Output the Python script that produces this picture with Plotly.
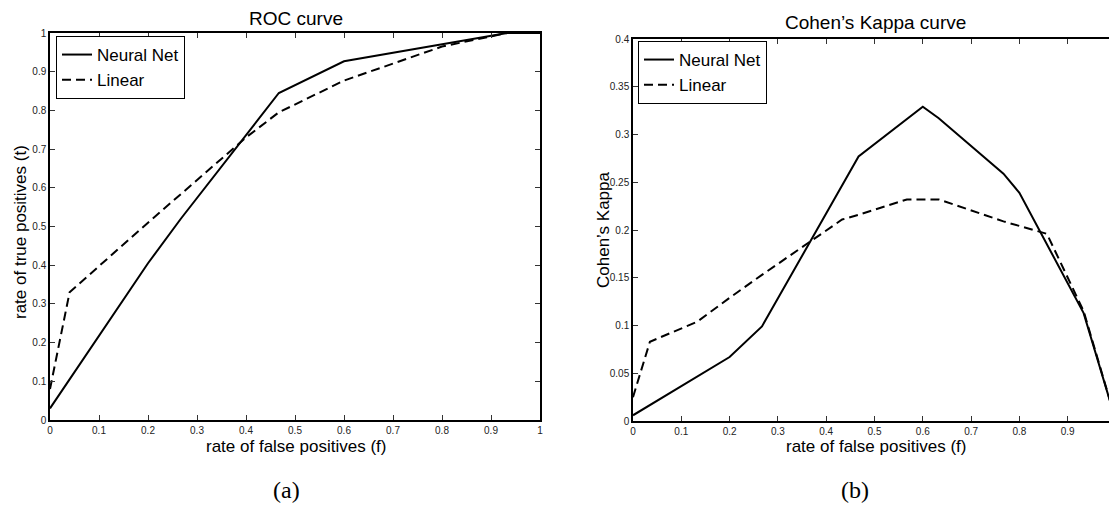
import plotly.graph_objects as go

# ---- data ----
roc_nn_f = [0, 0.2, 0.267, 0.467, 0.6, 0.8, 0.933, 1.0]
roc_nn_t = [0.03, 0.405, 0.52, 0.845, 0.927, 0.972, 1.0, 1.0]

roc_lin_f = [0, 0.04, 0.2, 0.4, 0.467, 0.6, 0.8, 0.933, 1.0]
roc_lin_t = [0.08, 0.33, 0.51, 0.73, 0.795, 0.877, 0.965, 1.0, 1.0]

kappa_nn_f = [0, 0.2, 0.267, 0.467, 0.6, 0.633, 0.767, 0.8, 0.933, 1.0]
kappa_nn_k = [0.006, 0.067, 0.099, 0.277, 0.329, 0.317, 0.259, 0.239, 0.113, 0.0]

kappa_lin_f = [0, 0.035, 0.133, 0.2, 0.267, 0.433, 0.467, 0.567, 0.633, 0.767, 0.857, 0.933, 1.0]
kappa_lin_k = [0.025, 0.083, 0.104, 0.129, 0.153, 0.211, 0.216, 0.232, 0.232, 0.209, 0.196, 0.115, 0.0]

series_names = ["Neural Net", "Linear"]
titles = ["ROC curve", "Cohen\u2019s Kappa curve"]
xlabel = "rate of false positives (f)"
ylabels = ["rate of true positives (t)", "Cohen\u2019s Kappa"]
panel_labels = ["(a)", "(b)"]

# The page body has an 8px default margin; size the figure so it fits the window.
OFF = 8
W, H = 1117 - OFF, 521 - OFF
SANS = "Liberation Sans, Arial, sans-serif"
SERIF = "Liberation Serif, Times New Roman, serif"

def px(x):
    return (x - OFF) / W

def py(y):
    return 1 - (y - OFF) / H

fig = go.Figure()
line_solid = dict(color="black", width=2)
line_dash = dict(color="black", width=2, dash="9px,5px")

fig.add_trace(go.Scatter(x=roc_nn_f, y=roc_nn_t, mode="lines", name=series_names[0],
                         line=line_solid, xaxis="x", yaxis="y", legend="legend"))
fig.add_trace(go.Scatter(x=roc_lin_f, y=roc_lin_t, mode="lines", name=series_names[1],
                         line=line_dash, xaxis="x", yaxis="y", legend="legend"))
fig.add_trace(go.Scatter(x=kappa_nn_f, y=kappa_nn_k, mode="lines", name=series_names[0],
                         line=line_solid, xaxis="x2", yaxis="y2", legend="legend2"))
fig.add_trace(go.Scatter(x=kappa_lin_f, y=kappa_lin_k, mode="lines", name=series_names[1],
                         line=line_dash, xaxis="x2", yaxis="y2", legend="legend2"))

axis_common = dict(
    showgrid=False, zeroline=False, showline=True, linecolor="black", linewidth=1.5,
    mirror="ticks", ticks="inside", ticklen=5, tickcolor="#333", tickwidth=1,
    tickfont=dict(family=SANS, size=10, color="#222"), automargin=False,
)

legend_common = dict(xanchor="left", yanchor="top",
                     bgcolor="white", bordercolor="black", borderwidth=1,
                     font=dict(family=SANS, size=17, color="black"),
                     tracegroupgap=0, itemwidth=30)

fig.update_layout(
    width=W, height=H,
    margin=dict(l=0, r=0, t=0, b=0, autoexpand=False),
    paper_bgcolor="white", plot_bgcolor="white",
    xaxis=dict(domain=[px(50), px(540)], range=[0, 1], dtick=0.1, anchor="y", **axis_common),
    yaxis=dict(domain=[py(420), py(33)], range=[0, 1], dtick=0.1, anchor="x", **axis_common),
    xaxis2=dict(domain=[px(633), px(1116)], range=[0, 1], dtick=0.1, anchor="y2", **axis_common),
    yaxis2=dict(domain=[py(421), py(39)], range=[0, 0.4], dtick=0.05, anchor="x2", **axis_common),
    legend=dict(x=px(56), y=py(36), **legend_common),
    legend2=dict(x=px(638), y=py(41), **legend_common),
    showlegend=True,
)

ann = []
# titles
ann.append(dict(text=titles[0], x=px(295.5), y=py(18), xref="paper", yref="paper",
                showarrow=False, font=dict(family=SANS, size=19, color="black"),
                xanchor="center", yanchor="middle"))
ann.append(dict(text=titles[1], x=px(875.5), y=py(22), xref="paper", yref="paper",
                showarrow=False, font=dict(family=SANS, size=19, color="black"),
                xanchor="center", yanchor="middle"))
# x labels
for cx in (295.5, 875.5):
    ann.append(dict(text=xlabel, x=px(cx), y=py(446), xref="paper", yref="paper",
                    showarrow=False, font=dict(family=SANS, size=17, color="black"),
                    xanchor="center", yanchor="middle"))
# y labels
ann.append(dict(text=ylabels[0], x=px(20), y=py(232), xref="paper", yref="paper",
                showarrow=False, textangle=-90, font=dict(family=SANS, size=17, color="black"),
                xanchor="center", yanchor="middle"))
ann.append(dict(text=ylabels[1], x=px(603), y=py(230), xref="paper", yref="paper",
                showarrow=False, textangle=-90, font=dict(family=SANS, size=17, color="black"),
                xanchor="center", yanchor="middle"))
# panel labels
ann.append(dict(text=panel_labels[0], x=px(286), y=py(490), xref="paper", yref="paper",
                showarrow=False, font=dict(family=SERIF, size=24, color="black"),
                xanchor="center", yanchor="middle"))
ann.append(dict(text=panel_labels[1], x=px(855), y=py(490), xref="paper", yref="paper",
                showarrow=False, font=dict(family=SERIF, size=24, color="black"),
                xanchor="center", yanchor="middle"))
fig.update_layout(annotations=ann)

fig.write_html("out.html")
